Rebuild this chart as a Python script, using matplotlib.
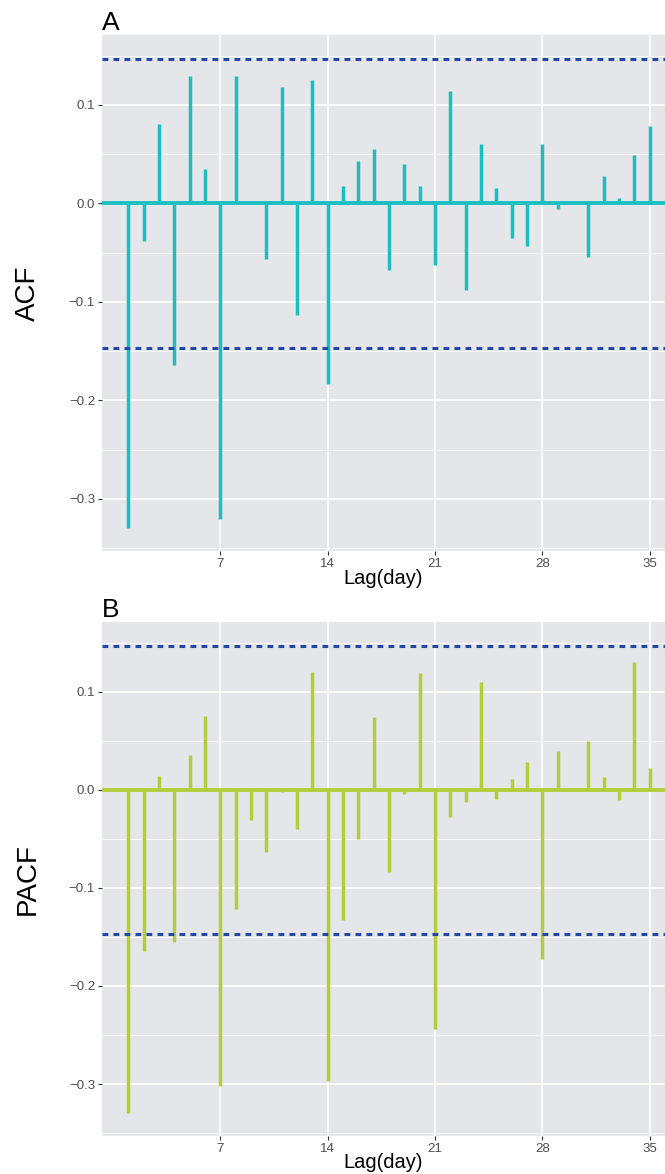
import matplotlib.pyplot as plt
import numpy as np

plt.rcParams['font.family'] = ['Liberation Sans', 'DejaVu Sans']

# lags 1..35
lags = np.arange(1, 36)

acf_vals = [-0.330, -0.038, 0.081, -0.164, 0.129, 0.035, -0.321, 0.129, 0.0, -0.056,
            0.118, -0.113, 0.125, -0.183, 0.018, 0.043, 0.055, -0.068, 0.040, 0.018,
            -0.063, 0.114, -0.088, 0.060, 0.016, -0.035, -0.043, 0.060, -0.006, 0.0,
            -0.054, 0.028, 0.005, 0.049, 0.079]

pacf_vals = [-0.330, -0.164, 0.014, -0.155, 0.035, 0.075, -0.302, -0.122, -0.031, -0.063,
             -0.002, -0.040, 0.120, -0.297, -0.133, -0.050, 0.074, -0.084, -0.004, 0.119,
             -0.244, -0.028, -0.013, 0.110, -0.009, 0.011, 0.028, -0.173, 0.039, 0.0,
             0.050, 0.013, -0.010, 0.130, 0.022]

ci = 0.147
xticks = [7, 14, 21, 28, 35]
yticks = [-0.3, -0.2, -0.1, 0.0, 0.1]
yminor = [-0.35, -0.25, -0.15, -0.05, 0.05, 0.15]

W, H = 665, 1174
fig = plt.figure(figsize=(W / 100, H / 100), dpi=100)

bg = '#E4E6E9'
dash_col = '#2348A6'


def panel(top_px, bot_px, vals, color, letter, ylab):
    left_px = 102
    ax = fig.add_axes([left_px / W, 1 - bot_px / H, (W - left_px) / W, (bot_px - top_px) / H])
    ax.set_facecolor(bg)
    for s in ax.spines.values():
        s.set_visible(False)
    ax.set_xlim(-0.72, 36.0)
    ax.set_ylim(-0.353, 0.171)
    for y in yminor:
        ax.axhline(y, color='white', lw=0.6, zorder=0)
    for y in yticks:
        ax.axhline(y, color='white', lw=1.2, zorder=0)
    for x in xticks:
        ax.axvline(x, color='white', lw=1.2, zorder=0)
    ax.axhline(0, color=color, lw=2.8, zorder=2)
    ax.vlines(lags, 0, vals, color=color, lw=2.5, zorder=2)
    for c in (ci, -ci):
        ax.axhline(c, color=dash_col, lw=2.2, ls=(0, (1.9, 1.7)), zorder=3)
    ax.set_xticks(xticks)
    ax.set_yticks(yticks)
    ax.set_yticklabels([('%.1f' % v).replace('-', '\u2212') for v in yticks])
    ax.tick_params(colors='#333333', labelcolor='#4D4D4D', labelsize=9.5,
                   length=3, width=0.8, pad=2)
    ax.set_ylabel(ylab, fontsize=20, color='black')
    ax.yaxis.set_label_coords(-61 / (W - left_px), 0.5)
    fig.text(383 / W, 1 - (bot_px + 27) / H, 'Lag(day)', fontsize=14.5,
             ha='center', va='center')
    fig.text(left_px / W, 1 - (top_px - 5) / H, letter, fontsize=19,
             ha='left', va='baseline')
    return ax


panel(35, 551, acf_vals, '#1CBFC0', 'A', 'ACF')
panel(622, 1136, pacf_vals, '#B5CD3A', 'B', 'PACF')

fig.savefig('out.png', dpi=100)
